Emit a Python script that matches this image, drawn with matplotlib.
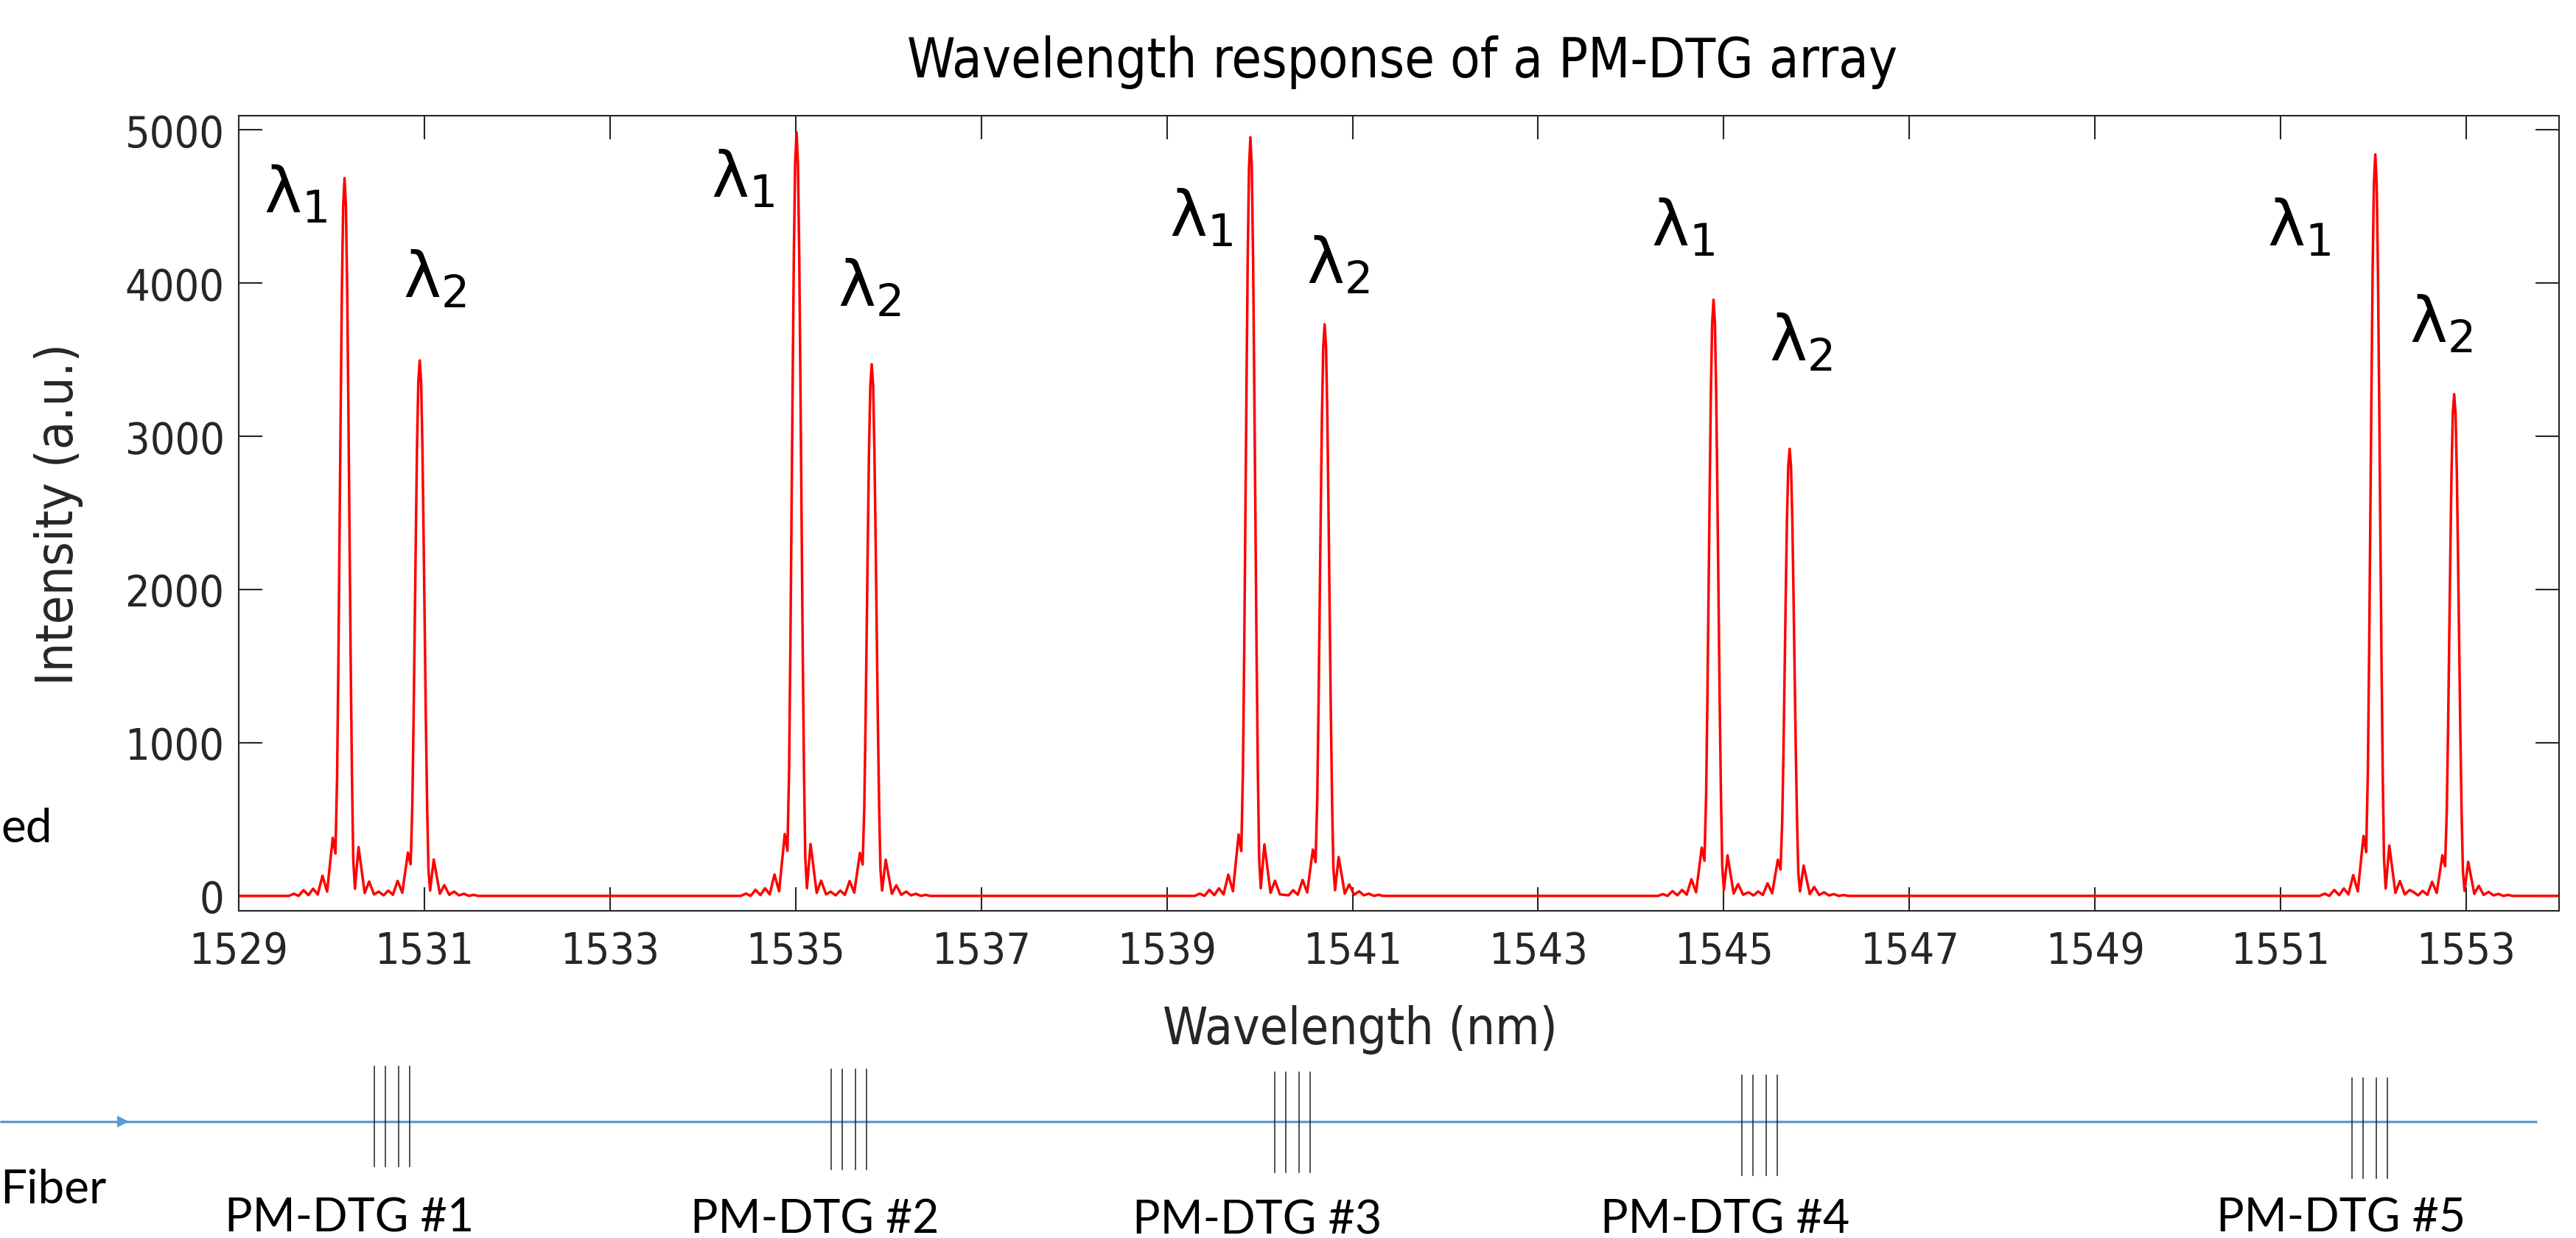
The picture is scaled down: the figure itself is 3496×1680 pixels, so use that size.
import matplotlib
matplotlib.use("Agg")
import matplotlib.pyplot as plt
from matplotlib import font_manager as fm

# ---------------- data ----------------
wl_min, wl_max = 1529.0, 1554.0
lambda1_center = [1530.14, 1535.01, 1539.90, 1544.89, 1552.02]
lambda1_height = [4685, 4984, 4952, 3891, 4840]
lambda2_center = [1530.95, 1535.82, 1540.70, 1545.71, 1552.87]
lambda2_height = [3495, 3470, 3731, 2918, 3275]

# measured shape of a single reflection peak: offset from the peak (nm), fraction of the peak height
peak_offset = [-0.600, -0.545, -0.495, -0.442, -0.389, -0.339, -0.289, -0.238, -0.188, -0.127, -0.098,
               -0.080, -0.066, -0.054, -0.042, -0.029, -0.015, 0.000, 0.015, 0.029, 0.042, 0.054, 0.066,
               0.080, 0.094, 0.112, 0.151, 0.217, 0.265, 0.318, 0.371, 0.424, 0.476, 0.530, 0.580, 0.630]
peak_fraction = [0.000, 0.003, 0.000, 0.008, 0.001, 0.010, 0.002, 0.028, 0.006, 0.081, 0.059,
                 0.167, 0.33, 0.50, 0.67, 0.84, 0.96, 1.00, 0.96, 0.84, 0.67, 0.50, 0.33,
                 0.167, 0.05, 0.010, 0.068, 0.004, 0.020, 0.002, 0.008, 0.001, 0.004, 0.000, 0.002, 0.000]

x_ticks = [1529, 1531, 1533, 1535, 1537, 1539, 1541, 1543, 1545, 1547, 1549, 1551, 1553]
y_ticks = [0, 1000, 2000, 3000, 4000, 5000]

title_text = "Wavelength response of a PM-DTG array"
xlabel_text = "Wavelength (nm)"
ylabel_text = "Intensity (a.u.)"
grating_names = ["PM-DTG #1", "PM-DTG #2", "PM-DTG #3", "PM-DTG #4", "PM-DTG #5"]

# lambda labels: (wavelength of left edge, intensity of baseline)
lam1_label_x = [1529.27, 1534.09, 1539.03, 1544.22, 1550.86]
lam1_label_y = [4462, 4566, 4310, 4245, 4245]
lam2_label_x = [1530.77, 1535.455, 1540.50, 1545.49, 1552.39]
lam2_label_y = [3910, 3852, 3999, 3496, 3614]

# ---------------- build the curve from the read values ----------------
wl = [wl_min]
inten = [0.0]
for c1, h1, c2, h2 in zip(lambda1_center, lambda1_height, lambda2_center, lambda2_height):
    sep = c2 - c1
    for o, f in zip(peak_offset, peak_fraction):
        if o <= 0.45 * sep:
            wl.append(c1 + o)
            inten.append(h1 * f)
    for o, f in zip(peak_offset, peak_fraction):
        if o >= -0.55 * sep:
            wl.append(c2 + o)
            inten.append(h2 * f)
wl.append(wl_max)
inten.append(0.0)

# ---------------- fonts ----------------
W, H, DPI = 3496, 1681, 100
cond_path = fm.findfont(fm.FontProperties(family="DejaVu Sans", stretch="condensed"))
STRETCH = "condensed" if "Condensed" in cond_path else "normal"
plt.rcParams["font.family"] = ["DejaVu Sans"]
plt.rcParams["mathtext.fontset"] = "dejavusans"
DARK = "#262626"

fig = plt.figure(figsize=(W / DPI, H / DPI), dpi=DPI)
renderer = fig.canvas.get_renderer()

# overlay axes in pixel coordinates for the diagram and free texts
ov = fig.add_axes([0, 0, 1, 1])
ov.set_xlim(0, W)
ov.set_ylim(H, 0)
ov.axis("off")


def fit_width(t, target, use_height=False):
    bb = t.get_window_extent(renderer)
    w = bb.height if use_height else bb.width
    t.set_fontsize(t.get_fontsize() * target / w)
    return t


# ---------------- main axes ----------------
ax = fig.add_axes([324 / W, 1 - 1236.5 / H, (3473 - 324) / W, (1236.5 - 157.5) / H])
ax.plot(wl, inten, color="#ff0000", lw=2.5, solid_joinstyle="round")
ax.set_xlim(wl_min, wl_max)
ax.set_ylim(-95, 5095)
ax.set_xticks(x_ticks)
ax.set_yticks(y_ticks)
for s in ax.spines.values():
    s.set_color(DARK)
    s.set_linewidth(1.5)

# tick label size fitted to the reference width of "1529"
probe = fig.text(0, 0, "1529", fontstretch=STRETCH, fontsize=40)
fit_width(probe, 135)
tick_fs = probe.get_fontsize()
probe.remove()

ax.tick_params(axis="both", which="both", direction="in", length=23, width=1.5, color=DARK,
               top=True, right=True, labelsize=tick_fs, labelcolor=DARK)
ax.tick_params(axis="x", pad=19)
ax.tick_params(axis="y", pad=14)
for lab in ax.get_xticklabels() + ax.get_yticklabels():
    lab.set_fontstretch(STRETCH)

# lambda labels
for x, y in zip(lam1_label_x, lam1_label_y):
    ax.text(x, y, r"$\mathregular{λ_1}$", fontsize=62, ha="left", va="baseline", color="black")
for x, y in zip(lam2_label_x, lam2_label_y):
    ax.text(x, y, r"$\mathregular{λ_2}$", fontsize=62, ha="left", va="baseline", color="black")

# ---------------- titles ----------------
t = ov.text(1903, 105, title_text, ha="center", va="baseline", fontsize=50, fontstretch=STRETCH, color="black")
fit_width(t, 1344)
t = ov.text(1846, 1417, xlabel_text, ha="center", va="baseline", fontsize=50, fontstretch=STRETCH, color=DARK)
fit_width(t, 536)
t = ov.text(80, 698, ylabel_text, ha="center", va="center", rotation=90, fontsize=50, fontstretch=STRETCH, color=DARK)
fit_width(t, 464, use_height=True)

# ---------------- fibre diagram ----------------
BLUE = "#5b9bd5"
ov.plot([0, 3443], [1523, 1523], color=BLUE, lw=2.4, solid_capstyle="butt")
ov.plot([167], [1523], marker=">", markersize=11, color=BLUE, markeredgewidth=0)

grating_left = [508, 1127.6, 1730, 2364, 3192]
grating_top = [1448, 1452, 1456, 1460, 1464]
line_offsets = [0, 15, 33, 48]
for gx, gt in zip(grating_left, grating_top):
    for off in line_offsets:
        ov.plot([gx + off, gx + off], [gt, gt + 136], color="#222222", lw=1.1)

label_cx = [474, 1106, 1706, 2341, 3177]
label_base = [1672, 1674, 1675, 1674, 1672]
for name, cx, by in zip(grating_names, label_cx, label_base):
    t = ov.text(cx, by, name, ha="center", va="baseline", family="Lato", fontsize=47, color="black")
    fit_width(t, 338)

t = ov.text(0, 1633, "Fiber", ha="left", va="baseline", family="Lato", fontsize=47, color="black")
fit_width(t, 144)
fiber_fs = t.get_fontsize()
# end of a word at the left edge of the reference, kept fully visible
ov.text(1, 1143, "ed", ha="left", va="baseline", family="Lato", fontsize=fiber_fs, color="black")

fig.savefig("out.png", dpi=DPI, facecolor="white")
